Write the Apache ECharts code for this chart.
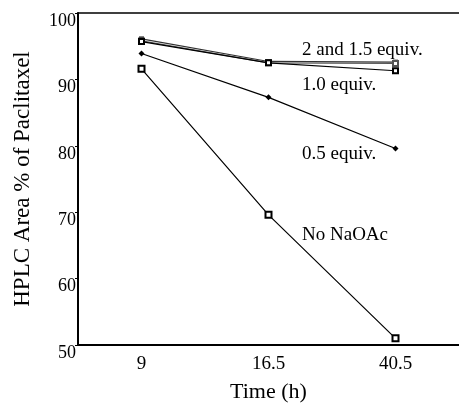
<!DOCTYPE html>
<html>
<head>
<meta charset="utf-8">
<script src="https://cdn.jsdelivr.net/npm/echarts@6/dist/echarts.min.js"></script>
<style>
  html, body { margin: 0; padding: 0; background: #fff; }
  #chart { width: 459px; height: 408px; }
</style>
</head>
<body>
<div id="chart"></div>
<script>
// time points (h)
const times = ['9', '16.5', '40.5'];
const yTicks = [50, 60, 70, 80, 90, 100];

// HPLC area % of paclitaxel
const equiv2 = [96.1, 92.7, 92.6];
const equiv15 = [95.8, 92.5, 92.4];
const equiv10 = [95.7, 92.5, 91.3];
const equiv05 = [93.9, 87.3, 79.6];
const noNaOAc = [91.6, 69.6, 51.0];

const annotations = ['2 and 1.5 equiv.', '1.0 equiv.', '0.5 equiv.', 'No NaOAc'];

const serif = '"Liberation Serif", "DejaVu Serif", serif';
let myChart = echarts.init(document.getElementById('chart'));

function line(name, data, symbol, size, color) {
    return {
        name: name,
        type: 'line',
        data: data,
        symbol: symbol,
        symbolSize: size,
        showAllSymbol: true,
        lineStyle: { color: color, width: 1.2 },
        itemStyle: { color: color, borderWidth: 1.2 },
        animation: false
    };
}

let option = {
    backgroundColor: '#fff',
    grid: { left: 78, right: 0, top: 13, bottom: 57 },
    xAxis: [{
        type: 'category',
        data: times,
        boundaryGap: true,
        name: 'Time (h)',
        nameLocation: 'middle',
        nameGap: 36,
        nameTextStyle: { fontFamily: serif, fontSize: 22, color: '#000', verticalAlign: 'top' },
        axisLine: { lineStyle: { color: '#000', width: 2 } },
        axisTick: { alignWithLabel: true, length: 4, lineStyle: { color: '#000' } },
        axisLabel: { fontFamily: serif, fontSize: 19, color: '#000', margin: 10 },
        splitLine: { show: false }
    }, {
        // boundary ticks between the bands
        type: 'category',
        data: times,
        position: 'bottom',
        boundaryGap: true,
        axisLine: { show: false },
        axisTick: { alignWithLabel: false, length: 3, lineStyle: { color: '#000' } },
        axisLabel: { show: false }
    }, {
        // top frame line
        type: 'category',
        data: times,
        position: 'top',
        axisLine: { lineStyle: { color: '#000', width: 1.5 } },
        axisTick: { show: false },
        axisLabel: { show: false }
    }],
    yAxis: {
        type: 'value',
        min: 50,
        max: 100,
        interval: 10,
        name: 'HPLC Area % of Paclitaxel',
        nameLocation: 'middle',
        nameGap: 44,
        nameTextStyle: { fontFamily: serif, fontSize: 23, color: '#000' },
        axisLine: { show: true, lineStyle: { color: '#000', width: 2 } },
        axisTick: { show: true, length: 3, lineStyle: { color: '#000' } },
        axisLabel: {
            fontFamily: serif, fontSize: 18, color: '#000', margin: 2,
            verticalAlign: 'top', padding: [-1, 0, 0, 0],
            formatter: v => yTicks.includes(v) ? String(v) : ''
        },
        splitLine: { show: false }
    },
    series: [
        line('2 equiv.', equiv2, 'rect', 5, '#333'),
        line('1.5 equiv.', equiv15, 'emptyRect', 5, '#555'),
        line('1.0 equiv.', equiv10, 'emptyRect', 5, '#000'),
        line('0.5 equiv.', equiv05, 'diamond', 6, '#000'),
        line('No NaOAc', noNaOAc, 'emptyRect', 6, '#000')
    ],
    graphic: [
        { type: 'text', left: 302, top: 41, style: { text: annotations[0], font: '19px ' + serif, fill: '#000' } },
        { type: 'text', left: 302, top: 76, style: { text: annotations[1], font: '19px ' + serif, fill: '#000' } },
        { type: 'text', left: 302, top: 145, style: { text: annotations[2], font: '19px ' + serif, fill: '#000' } },
        { type: 'text', left: 302, top: 226, style: { text: annotations[3], font: '19px ' + serif, fill: '#000' } }
    ]
};

myChart.setOption(option);
</script>
</body>
</html>
